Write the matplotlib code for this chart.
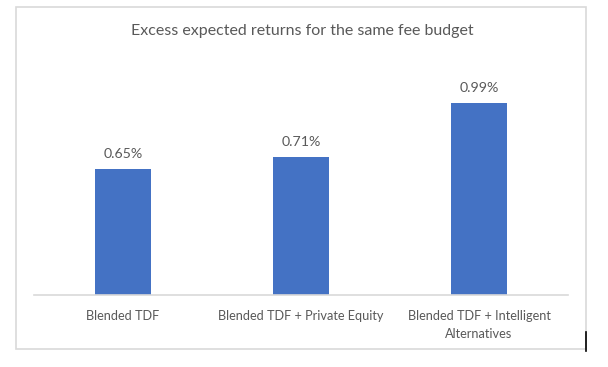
import matplotlib.pyplot as plt
from matplotlib.patches import Rectangle
from matplotlib.lines import Line2D

categories = ["Blended TDF", "Blended TDF + Private Equity",
              "Blended TDF + Intelligent\nAlternatives"]
values = [0.65, 0.71, 0.99]
value_labels = ["0.65%", "0.71%", "0.99%"]

BAR_COLOR = "#4472C4"
TEXT_COLOR = "#595959"
FONT = ["Lato", "DejaVu Sans"]

W, H = 608, 367
fig = plt.figure(figsize=(W / 100, H / 100), dpi=100)

# chart frame (Excel-style light border)
fig.add_artist(Rectangle((16 / W, 1 - 349 / H), (586 - 16) / W, (349 - 7) / H,
                         transform=fig.transFigure, fill=False,
                         edgecolor="#d9d9d9", linewidth=1.2))
# stray black mark at bottom-right of the screenshot
fig.add_artist(Line2D([586 / W, 586 / W], [1 - 332 / H, 1 - 351 / H],
                      transform=fig.transFigure, color="black", linewidth=1.2))

ax = fig.add_axes([34 / W, 1 - 295 / H, (568 - 34) / W, (295 - 62) / H])
x = range(len(categories))
bars = ax.bar(x, values, width=0.315, color=BAR_COLOR)
for b, lab in zip(bars, value_labels):
    ax.annotate(lab, (b.get_x() + b.get_width() / 2, b.get_height()),
                xytext=(0, 9), textcoords="offset pixels", ha="center", va="bottom",
                fontsize=10.2, color=TEXT_COLOR, family=FONT)

ax.set_xlim(-0.5, 2.5)
ax.set_ylim(0, 1.2)
ax.set_yticks([])
ax.set_xticks(list(x))
ax.set_xticklabels(categories, fontsize=9.2, color=TEXT_COLOR, family=FONT,
                   linespacing=1.6)
ax.tick_params(axis="x", length=0, pad=11)
for s in ["top", "right", "left"]:
    ax.spines[s].set_visible(False)
ax.spines["bottom"].set_color("#d9d9d9")
ax.spines["bottom"].set_linewidth(1.2)

fig.text(302 / W, 1 - 31 / H, "Excess expected returns for the same fee budget",
         ha="center", va="center", fontsize=11.5, color=TEXT_COLOR, family=FONT)

fig.savefig("out.png", dpi=100)
